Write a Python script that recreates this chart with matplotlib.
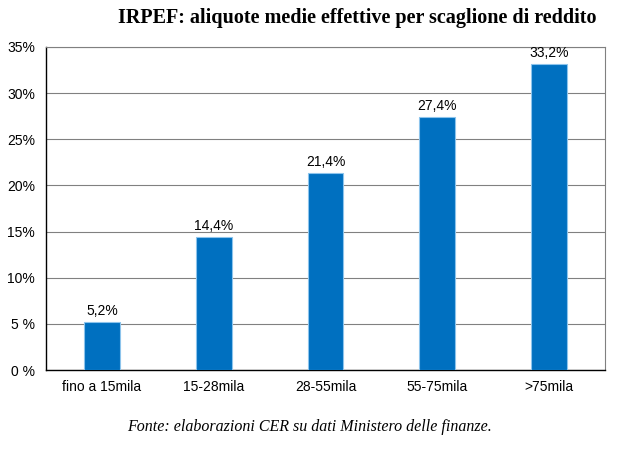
import matplotlib
matplotlib.use("Agg")
import matplotlib.pyplot as plt

categories = ["fino a 15mila", "15-28mila", "28-55mila", "55-75mila", ">75mila"]
values = [5.2, 14.4, 21.4, 27.4, 33.2]
value_labels = ["5,2%", "14,4%", "21,4%", "27,4%", "33,2%"]
yticks = [0, 5, 10, 15, 20, 25, 30, 35]
ytick_labels = ["0 %", "5 %", "10%", "15%", "20%", "25%", "30%", "35%"]

plt.rcParams["font.family"] = ["Liberation Sans", "DejaVu Sans"]

fig = plt.figure(figsize=(6.36, 4.58), dpi=100)
ax = fig.add_axes([46 / 636, 1 - 370 / 458, (605 - 46) / 636, (370 - 47) / 458])

x = range(len(categories))
ax.bar(x, values, width=0.32, color="#0070C0", edgecolor="#8DC4EC", linewidth=0.8, zorder=3)
for xi, v, lab in zip(x, values, value_labels):
    ax.text(xi, v + 0.4, lab, ha="center", va="bottom", fontsize=10, zorder=4)

ax.set_xlim(-0.5, len(categories) - 0.5)
ax.set_ylim(0, 35)
ax.set_yticks(yticks)
ax.set_yticklabels(ytick_labels, fontsize=10)
ax.set_xticks(list(x))
ax.set_xticklabels(categories, fontsize=10)
ax.tick_params(axis="both", length=0, pad=7)
ax.tick_params(axis="y", pad=8)
ax.grid(axis="y", color="#808080", linewidth=0.8, zorder=0)
for side in ["top", "right"]:
    ax.spines[side].set_color("#808080")
    ax.spines[side].set_linewidth(0.8)
for side in ["left", "bottom"]:
    ax.spines[side].set_color("black")
    ax.spines[side].set_linewidth(1.0)

fig.text(357 / 636, 1 - 18 / 458, "IRPEF: aliquote medie effettive per scaglione di reddito",
         ha="center", va="center", fontsize=14.5, fontweight="bold", family="Liberation Serif")
fig.text(309 / 636, 1 - 427 / 458, "Fonte: elaborazioni CER su dati Ministero delle finanze.",
         ha="center", va="center", fontsize=11.5, style="italic", family="Liberation Serif")

fig.savefig("out.png", dpi=100)
